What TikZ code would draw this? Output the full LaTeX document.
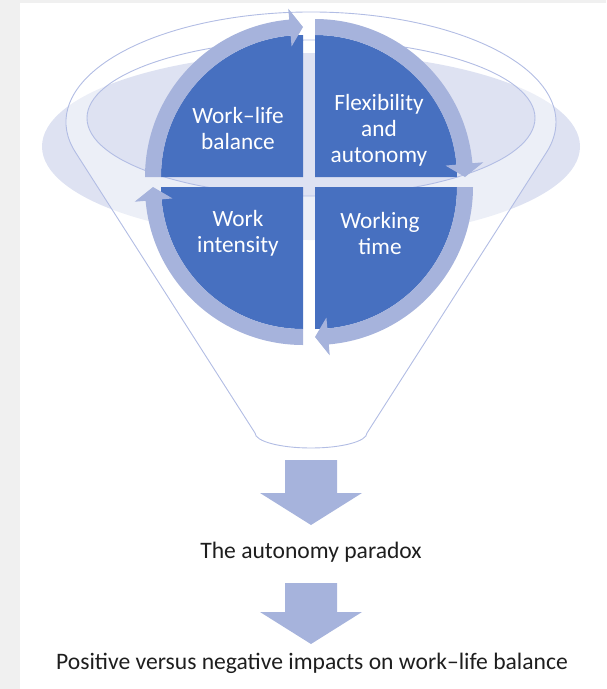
\documentclass[tikz,border=0pt]{standalone}
\usepackage{fontspec}
\setmainfont{Carlito}
\definecolor{quadblue}{RGB}{71,112,192}
\definecolor{ringblue}{RGB}{166,179,220}
\definecolor{haze}{RGB}{222,226,242}
\definecolor{rimline}{RGB}{178,189,228}
\definecolor{captext}{RGB}{30,30,30}
\definecolor{framegray}{RGB}{240,240,240}
\tikzset{
  quadrant/.style={fill=quadblue},
  ringarrow/.style={fill=ringblue},
  rim/.style={draw=rimline, line width=0.9pt},
  label/.style={text=white, align=center, font=\fontsize{23.3}{26}\selectfont},
  caption/.style={text=captext, anchor=base, font=\fontsize{23.6}{28}\selectfont},
  blockarrow/.style={fill=ringblue}
}
\begin{document}
\begin{tikzpicture}[x=1pt,y=1pt]
    \useasboundingbox (0,0) rectangle (606,-689);
    \fill[framegray] (0,0) rectangle (20,-689);
    \fill[framegray] (0,0) rectangle (606,-2.5);

    \fill[haze] (311,-146.5) ellipse [x radius=269, y radius=93.5];
    \coordinate (rimc) at (311,-122);
    \coordinate (innerc) at (311,-118);
    \coordinate (neckl) at (255,-433);
    \coordinate (neckr) at (367,-433);
    \path[fill=white, fill opacity=0.45, even odd rule]
      (neckl) -- ([shift={(196:245 and 110)}]rimc)
      arc[start angle=196, end angle=-16, x radius=245, y radius=110]
      -- (neckr) arc[start angle=0, end angle=-180, x radius=56, y radius=15] -- cycle
      (innerc) ellipse [x radius=224, y radius=78];
    \draw[rim] (neckl) -- ([shift={(196:245 and 110)}]rimc)
      arc[start angle=196, end angle=-16, x radius=245, y radius=110]
      -- (neckr) arc[start angle=0, end angle=-180, x radius=56, y radius=15];
    \draw[rim] (innerc) ellipse [x radius=224, y radius=78];

    \foreach \cx/\cy/\e in {303/-177/90, 315/-177/0, 315/-187/-90, 303/-187/180} {
      \pgfmathsetmacro\s{\e+90}
      \pgfmathsetmacro\b{\e+5}
      \begin{scope}[shift={(\cx,\cy)}]
        \fill[quadrant] (0,0) -- (\s:142) arc[start angle=\s, end angle=\e, radius=142] -- cycle;
        \fill[ringarrow] (\s:158) arc[start angle=\s, end angle=\b, radius=158]
          -- (\b:169) -- (\e:150) -- (\b:131) -- (\b:142)
          arc[start angle=\b, end angle=\s, radius=142] -- cycle;
      \end{scope}
    }

    \node[label] (balance) at (238,-128) {Work--life\\balance};
    \node[label] (flex) at (379,-130) {Flexibility\\and\\autonomy};
    \node[label] (intensity) at (238,-233) {Work\\intensity};
    \node[label] (worktime) at (380,-233) {Working\\time};

    \foreach \top/\base/\tip in {460/493/525, 583/612/644}
      \fill[blockarrow] (285,-\top) -- (337,-\top) -- (337,-\base) -- (362,-\base)
        -- (311,-\tip) -- (260,-\base) -- (285,-\base) -- cycle;

    \node[caption] (paradox) at (311,-558) {The autonomy paradox};
    \node[caption] (impacts) at (312,-669) {Positive versus negative impacts on work--life balance};
\end{tikzpicture}
\end{document}
